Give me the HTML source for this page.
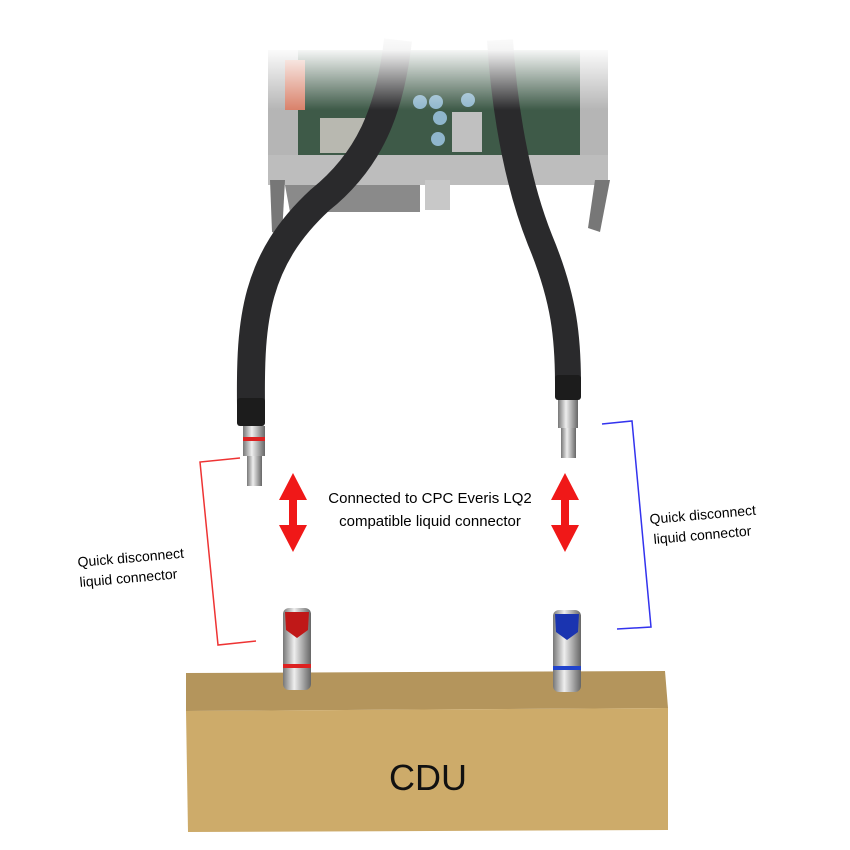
<!DOCTYPE html>
<html><head><meta charset="utf-8"><style>
body{margin:0;background:#fff}
svg{display:block}
text{font-family:"Liberation Sans",sans-serif}
</style></head><body>
<svg width="850" height="850" viewBox="0 0 850 850" xmlns="http://www.w3.org/2000/svg">
<defs>
<linearGradient id="fade" x1="0" y1="0" x2="0" y2="1">
<stop offset="0" stop-color="#fff" stop-opacity="1"/>
<stop offset="0.25" stop-color="#fff" stop-opacity="0.95"/>
<stop offset="1" stop-color="#fff" stop-opacity="0"/>
</linearGradient>
<linearGradient id="metal" x1="0" y1="0" x2="1" y2="0">
<stop offset="0" stop-color="#777"/><stop offset="0.4" stop-color="#eee"/><stop offset="0.7" stop-color="#aaa"/><stop offset="1" stop-color="#666"/>
</linearGradient>
</defs>
<!-- board -->
<rect x="268" y="50" width="340" height="110" fill="#3e5a48"/>
<rect x="268" y="50" width="30" height="120" fill="#b5b5b5"/>
<rect x="580" y="50" width="28" height="120" fill="#b5b5b5"/>
<rect x="285" y="60" width="20" height="50" fill="#d9826a"/>
<rect x="320" y="118" width="45" height="35" fill="#b8b8b0"/>
<rect x="452" y="112" width="30" height="40" fill="#c0c0c0"/>
<circle cx="420" cy="102" r="7" fill="#8fb6cc"/><circle cx="436" cy="102" r="7" fill="#8fb6cc"/>
<circle cx="440" cy="118" r="7" fill="#8fb6cc"/><circle cx="468" cy="100" r="7" fill="#8fb6cc"/><circle cx="438" cy="139" r="7" fill="#8fb6cc"/>
<rect x="268" y="155" width="340" height="30" fill="#bdbdbd"/>
<path d="M285 185 L420 185 L420 212 L290 212 Z" fill="#8a8a8a"/>
<rect x="425" y="180" width="25" height="30" fill="#c8c8c8"/>
<path d="M270 180 L285 180 L282 235 L272 232 Z" fill="#777"/>
<path d="M595 180 L610 180 L600 232 L588 228 Z" fill="#777"/>
<!-- cables -->
<path d="M398 40 C390 110 370 160 320 200 C255 260 250 320 251 405" fill="none" stroke="#2a2a2c" stroke-width="28"/>
<path d="M500 40 C505 120 520 190 540 240 C565 300 568 340 568 385" fill="none" stroke="#2a2a2c" stroke-width="26"/>
<rect x="255" y="30" width="370" height="80" fill="url(#fade)"/>
<rect x="237" y="398" width="28" height="28" rx="3" fill="#1c1c1c"/>
<rect x="555" y="375" width="26" height="25" rx="3" fill="#1c1c1c"/>
<rect x="243" y="426" width="22" height="30" fill="url(#metal)"/>
<rect x="243" y="437" width="22" height="4" fill="#d22"/>
<rect x="247" y="456" width="15" height="30" fill="url(#metal)"/>
<rect x="558" y="400" width="20" height="28" fill="url(#metal)"/>
<rect x="561" y="428" width="15" height="30" fill="url(#metal)"/>
<!-- brackets -->
<polyline points="240,458 200,462 218,645 256,641" fill="none" stroke="#e33" stroke-width="1.5"/>
<polyline points="602,424 632,421 651,627 617,629" fill="none" stroke="#33e" stroke-width="1.5"/>
<!-- arrows -->
<g fill="#f01818">
<polygon points="293,473 279,500 289,500 289,525 279,525 293,552 307,525 297,525 297,500 307,500"/>
<polygon points="565,473 551,500 561,500 561,525 551,525 565,552 579,525 569,525 569,500 579,500"/>
</g>
<text x="430" y="503" font-size="15" text-anchor="middle">Connected to CPC Everis LQ2</text>
<text x="430" y="526" font-size="15" text-anchor="middle">compatible liquid connector</text>
<text x="78" y="567" font-size="14" transform="rotate(-5 78 567)">Quick disconnect</text>
<text x="80" y="587" font-size="14" transform="rotate(-5 80 587)">liquid connector</text>
<text x="650" y="524" font-size="14" transform="rotate(-5 650 524)">Quick disconnect</text>
<text x="654" y="544" font-size="14" transform="rotate(-5 654 544)">liquid connector</text>
<!-- CDU -->
<polygon points="186,673 665,671 668,708 186,711" fill="#b4955c"/>
<polygon points="186,711 668,708 668,830 188,832" fill="#cdab6a"/>
<!-- fittings -->
<rect x="283" y="608" width="28" height="82" rx="6" fill="url(#metal)"/>
<path d="M285 612 L309 612 L308 630 L297 638 L286 630 Z" fill="#c01818"/>
<rect x="283" y="664" width="28" height="4" fill="#d22"/>
<rect x="553" y="610" width="28" height="82" rx="6" fill="url(#metal)"/>
<path d="M555 614 L579 614 L578 632 L567 640 L556 632 Z" fill="#1a34b0"/>
<rect x="553" y="666" width="28" height="4" fill="#2244cc"/>
<text x="428" y="790" font-size="36" text-anchor="middle" fill="#111">CDU</text>
</svg>
</body></html>
